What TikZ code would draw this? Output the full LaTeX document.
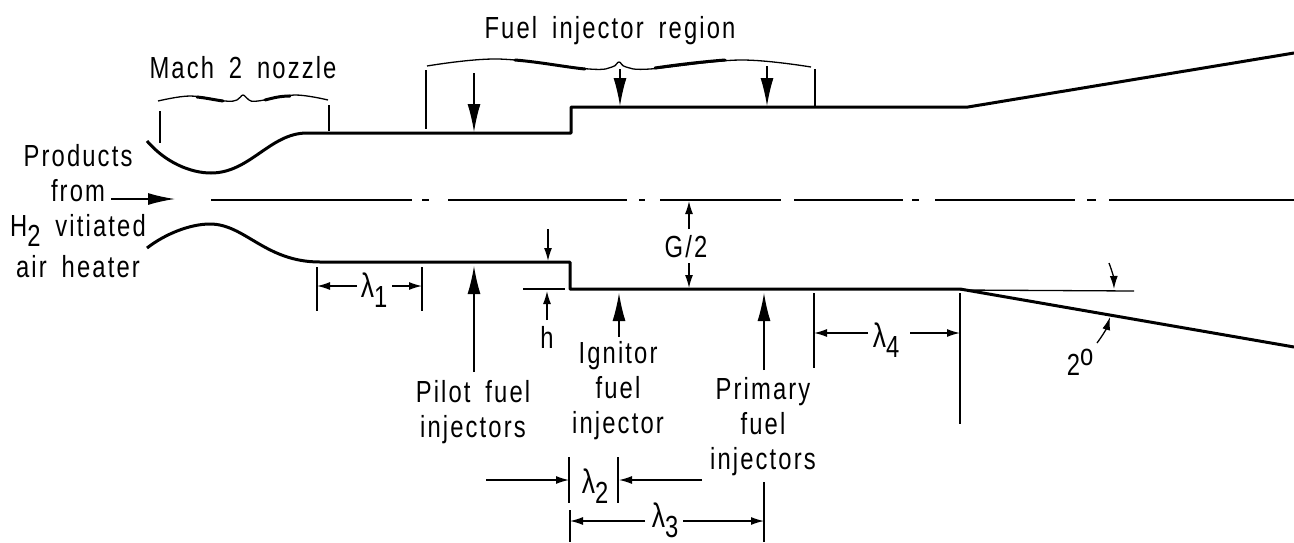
\documentclass[tikz,border=0pt]{standalone}
\usepackage{fontspec}
\setmainfont[FakeStretch=0.78,LetterSpace=7,WordSpace=1.7]{Liberation Sans}
\usetikzlibrary{arrows.meta,positioning}
\tikzstyle{wall}=[line width=3pt,line join=round]
\tikzstyle{axis}=[line width=1.7pt]
\tikzstyle{tick}=[line width=1.3pt]
\tikzstyle{brace}=[line width=1.3pt]
\tikzstyle{bracethick}=[line width=3pt,line cap=round]
\tikzstyle{bigarrow}=[-{Latex[length=28pt,width=13pt]},line width=1.3pt]
\tikzstyle{dimarrow}=[-{Latex[length=13pt,width=8pt]},line width=1.3pt]
\tikzstyle{txt}=[inner sep=0pt,align=center,font=\fontsize{30.5}{35}\selectfont]
\newcommand{\lowidx}[1]{\raisebox{-10pt}{#1}}
\newcommand{\lenlabel}[1]{{\fontsize{34}{35}\selectfont λ}\lowidx{#1}}

\begin{document}
\begin{tikzpicture}[x=1pt,y=-1pt]
            \useasboundingbox (0,0) rectangle (1294,542);

            % WALLS

            \coordinate (wt1) at (307,133);
            \coordinate (wt2) at (571,133);
            \coordinate (wt3) at (571,107);
            \coordinate (wt4) at (968,107);
            \coordinate (wt5) at (1294,53);
            \coordinate (wb1) at (320,262);
            \coordinate (wb2) at (570,262);
            \coordinate (wb3) at (570,289);
            \coordinate (wb4) at (960,289);
            \coordinate (wb5) at (1294,347);

            \draw[wall] (147,141) .. controls (165,162) and (190,173) .. (211,173)
                .. controls (250,173) and (270,133) .. (wt1)
                -- (wt2) -- (wt3) -- (wt4) -- (wt5);
            \draw[wall] (147,248) .. controls (165,234) and (190,224) .. (210,224)
                .. controls (245,224) and (265,262) .. (wb1)
                -- (wb2) -- (wb3) -- (wb4) -- (wb5);

            % CENTER LINE

            \foreach \xa/\xb in {211/412,422/429,448/627,639/645,660/781,794/903,912/919,935/1075,1087/1096,1109/1294}
                \draw[axis] (\xa,200) -- (\xb,200);

            \node[txt] (products) at (78,211) {Products\\from\\H\lowidx{2} vitiated\\[6pt]air heater};
            \coordinate (inflow0) at (111,199);
            \coordinate (inflow1) at (175,199);
            \path[-{Latex[length=27pt,width=12pt]},line width=1.5pt] (inflow0) edge (inflow1);

            % BRACES

            \node[txt] (nozzle) at (243,68) {Mach 2 nozzle};
            \draw[brace] plot[smooth,tension=.6] coordinates {(158,101) (190,96) (225,101) (237,100) (243,95) (249,100) (258,101) (295,95) (328,100)};
            \draw[bracethick] (197,97) .. controls (207,98) and (215,100) .. (223,101);
            \draw[bracethick] (265,100) .. controls (273,98) and (280,96) .. (290,96);
            \coordinate (nb0) at (160,111);
            \coordinate (nb1) at (160,143);
            \coordinate (nb2) at (329,105);
            \coordinate (nb3) at (329,131);
            \path[tick] (nb0) edge (nb1);
            \path[tick] (nb2) edge (nb3);

            \node[txt] (region) at (610,31) {Fuel injector region};
            \draw[brace] plot[smooth,tension=.6] coordinates {(427,66) (498,59) (589,69) (612,67) (619,62) (626,67) (650,69) (740,60) (811,67)};
            \draw[bracethick] (515,60) .. controls (540,62) and (565,67) .. (585,69);
            \draw[bracethick] (655,68) .. controls (675,65) and (700,62) .. (725,60);
            \coordinate (fb0) at (426,70);
            \coordinate (fb1) at (426,129);
            \coordinate (fb2) at (815,69);
            \coordinate (fb3) at (815,107);
            \path[tick] (fb0) edge (fb1);
            \path[tick] (fb2) edge (fb3);

            % INJECTOR ARROWS

            \coordinate (d1a) at (474,73);
            \coordinate (d1b) at (474,132);
            \coordinate (d2a) at (620,69);
            \coordinate (d2b) at (620,106);
            \coordinate (d3a) at (767,66);
            \coordinate (d3b) at (767,106);
            \path[bigarrow] (d1a) edge (d1b);
            \path[bigarrow] (d2a) edge (d2b);
            \path[bigarrow] (d3a) edge (d3b);

            \node[txt] (pilot) at (473,412) {Pilot fuel\\injectors};
            \node[txt] (ignitor) at (618,391) {Ignitor\\fuel\\injector};
            \node[txt] (primary) at (763,427) {Primary\\fuel\\injectors};
            \coordinate (u1a) at (474,372);
            \coordinate (u1b) at (474,266);
            \coordinate (u2a) at (619,337);
            \coordinate (u2b) at (619,293);
            \coordinate (u3a) at (764,370);
            \coordinate (u3b) at (764,293);
            \path[bigarrow] (u1a) edge (u1b);
            \path[bigarrow] (u2a) edge (u2b);
            \path[bigarrow] (u3a) edge (u3b);

            % G/2 AND h

            \node[txt] (gap) at (686,247) {G/2};
            \coordinate (g1a) at (689,229);
            \coordinate (g1b) at (689,201);
            \coordinate (g2a) at (689,263);
            \coordinate (g2b) at (689,288);
            \path[dimarrow] (g1a) edge (g1b);
            \path[dimarrow] (g2a) edge (g2b);

            \node[txt] (h) at (547,337) {h};
            \coordinate (ha) at (548,229);
            \coordinate (hb) at (548,261);
            \coordinate (hc) at (547,320);
            \coordinate (hd) at (547,291);
            \coordinate (hl0) at (523,289);
            \coordinate (hl1) at (565,289);
            \path[dimarrow] (ha) edge (hb);
            \path[dimarrow] (hc) edge (hd);
            \path[tick] (hl0) edge (hl1);

            % LENGTHS

            \node[txt] (l1) at (374,290) {\lenlabel{1}};
            \coordinate (l1a) at (317,267);
            \coordinate (l1b) at (317,311);
            \coordinate (l1c) at (422,267);
            \coordinate (l1d) at (422,311);
            \coordinate (l1e) at (357,286);
            \coordinate (l1f) at (317,286);
            \coordinate (l1g) at (392,286);
            \coordinate (l1h) at (422,286);
            \path[tick] (l1a) edge (l1b);
            \path[tick] (l1c) edge (l1d);
            \path[dimarrow] (l1e) edge (l1f);
            \path[dimarrow] (l1g) edge (l1h);

            \node[txt] (l2) at (595,486) {\lenlabel{2}};
            \coordinate (l2a) at (569,457);
            \coordinate (l2b) at (569,503);
            \coordinate (l2c) at (618,457);
            \coordinate (l2d) at (618,503);
            \coordinate (l2e) at (486,480);
            \coordinate (l2f) at (569,480);
            \coordinate (l2g) at (702,480);
            \coordinate (l2h) at (619,480);
            \path[tick] (l2a) edge (l2b);
            \path[tick] (l2c) edge (l2d);
            \path[dimarrow] (l2e) edge (l2f);
            \path[dimarrow] (l2g) edge (l2h);

            \node[txt] (l3) at (665,520) {\lenlabel{3}};
            \coordinate (l3a) at (570,510);
            \coordinate (l3b) at (570,542);
            \coordinate (l3c) at (764,482);
            \coordinate (l3d) at (764,542);
            \coordinate (l3e) at (645,521);
            \coordinate (l3f) at (570,521);
            \coordinate (l3g) at (683,521);
            \coordinate (l3h) at (764,521);
            \path[tick] (l3a) edge (l3b);
            \path[tick] (l3c) edge (l3d);
            \path[dimarrow] (l3e) edge (l3f);
            \path[dimarrow] (l3g) edge (l3h);

            \node[txt] (l4) at (886,340) {\lenlabel{4}};
            \coordinate (l4a) at (814,293);
            \coordinate (l4b) at (814,368);
            \coordinate (l4c) at (960,293);
            \coordinate (l4d) at (960,424);
            \coordinate (l4e) at (868,333);
            \coordinate (l4f) at (814,333);
            \coordinate (l4g) at (910,333);
            \coordinate (l4h) at (960,333);
            \path[tick] (l4a) edge (l4b);
            \path[tick] (l4c) edge (l4d);
            \path[dimarrow] (l4e) edge (l4f);
            \path[dimarrow] (l4g) edge (l4h);

            % ANGLE

            \coordinate (ref0) at (960,290);
            \coordinate (ref1) at (1134,291);
            \path[tick] (ref0) edge (ref1);

            \node[txt] (angle) at (1080,362) {2\raisebox{10pt}{o}};
            \coordinate (a1a) at (1097,343);
            \coordinate (a1b) at (1110,317);
            \coordinate (a2a) at (1109,263);
            \coordinate (a2b) at (1114,289);
            \path[dimarrow] (a1a) edge[bend right=10] (a1b);
            \path[dimarrow] (a2a) edge[bend left=10] (a2b);

        \end{tikzpicture}
\end{document}
